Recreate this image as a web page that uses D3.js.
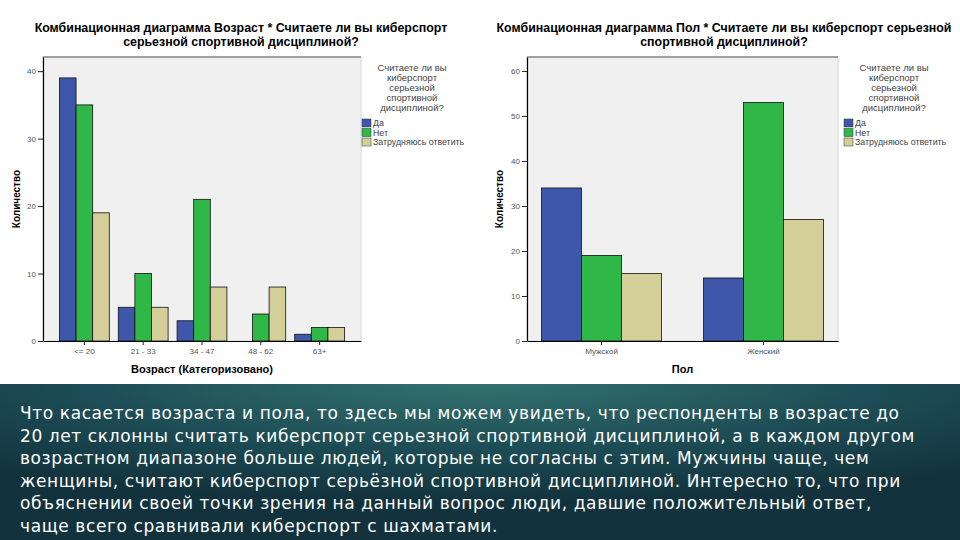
<!DOCTYPE html>
<html>
<head>
<meta charset="utf-8">
<script src="https://cdn.jsdelivr.net/npm/d3@7"></script>
<style>
  body { margin: 0; background: #fff; }
  svg { display: block; font-family: "Liberation Sans", Arial, sans-serif; }
</style>
</head>
<body>
<svg width="960" height="540"></svg>
<script>
// data
var seriesNames = ["Да", "Нет", "Затрудняюсь ответить"];
var seriesColors = ["#3e57ab", "#2fb748", "#d4cf98"];

var ageCats = ["<= 20", "21 - 33", "34 - 47", "48 - 62", "63+"];
var ageYes   = [39, 5, 3, 0, 1];
var ageNo    = [35, 10, 21, 4, 2];
var ageHard  = [19, 5, 8, 8, 2];
var ageTicks = [0, 10, 20, 30, 40];

var sexCats = ["Мужской", "Женский"];
var sexYes  = [34, 14];
var sexNo   = [19, 53];
var sexHard = [15, 27];
var sexTicks = [0, 10, 20, 30, 40, 50, 60];

var legendTitle = ["Считаете ли вы", "киберспорт", "серьезной", "спортивной", "дисциплиной?"];

var bodyLines = [
  "Что касается возраста и пола, то здесь мы можем увидеть, что респонденты в возрасте до",
  "20 лет склонны считать киберспорт серьезной спортивной дисциплиной, а в каждом другом",
  "возрастном диапазоне больше людей, которые не согласны с этим. Мужчины чаще, чем",
  "женщины, считают киберспорт серьёзной спортивной дисциплиной. Интересно то, что при",
  "объяснении своей точки зрения на данный вопрос люди, давшие положительный ответ,",
  "чаще всего сравнивали киберспорт с шахматами."
];

var svg = d3.select("svg");

// bottom panel
var defs = svg.append("defs");
var grad = defs.append("radialGradient").attr("id", "bg")
    .attr("cx", "50%").attr("cy", "0%").attr("r", "75%");
grad.append("stop").attr("offset", "0%").attr("stop-color", "#33726f");
grad.append("stop").attr("offset", "55%").attr("stop-color", "#1d4d56");
grad.append("stop").attr("offset", "100%").attr("stop-color", "#12333e");

svg.append("rect").attr("x", 0).attr("y", 384).attr("width", 960).attr("height", 156)
    .attr("fill", "url(#bg)");

svg.append("g").selectAll("text")
    .data(bodyLines)
    .enter().append("text")
    .attr("x", 20)
    .attr("y", function(d, i) { return 419 + i * 22.6; })
    .attr("fill", "#fff")
    .style("font-family", "'DejaVu Sans', sans-serif")
    .style("font-size", "17px")
    .style("letter-spacing", "0.6px")
    .text(function(d) { return d; });

function drawChart(cfg) {
    var g = svg.append("g");

    // title
    g.selectAll(".title")
        .data(cfg.title)
        .enter().append("text")
        .attr("x", cfg.titleX)
        .attr("y", function(d, i) { return 32 + i * 14; })
        .attr("text-anchor", "middle")
        .style("font-weight", "bold")
        .style("font-size", "12.4px")
        .text(function(d) { return d; });

    // plot bg
    g.append("rect")
        .attr("x", cfg.left).attr("y", cfg.top)
        .attr("width", cfg.right - cfg.left).attr("height", cfg.bottom - cfg.top)
        .attr("fill", "#f0f0f0").attr("stroke", "#d8d8d8");
    g.append("line")
        .attr("x1", cfg.left).attr("x2", cfg.right)
        .attr("y1", cfg.top).attr("y2", cfg.top)
        .attr("stroke", "#8a8a8a").attr("stroke-width", 1.5);

    var x = d3.scaleBand()
        .domain(cfg.cats)
        .range([cfg.left, cfg.right])
        .paddingInner(cfg.padIn)
        .paddingOuter(cfg.padOut);
    var xs = d3.scaleBand()
        .domain(d3.range(seriesNames.length))
        .range([0, x.bandwidth()]);
    var y = d3.scaleLinear()
        .domain([0, cfg.yMax])
        .range([cfg.bottom, cfg.top]);

    var rows = [];
    cfg.cats.forEach(function(c, i) {
        cfg.series.forEach(function(s, j) {
            rows.push({cat: c, s: j, val: s[i]});
        });
    });

    g.selectAll(".bar")
        .data(rows.filter(function(d) { return d.val > 0; }))
        .enter().append("rect")
        .attr("x", function(d) { return x(d.cat) + xs(d.s); })
        .attr("y", function(d) { return y(d.val); })
        .attr("width", xs.bandwidth())
        .attr("height", function(d) { return y(0) - y(d.val); })
        .attr("fill", function(d) { return seriesColors[d.s]; })
        .attr("stroke", "#111")
        .attr("stroke-width", 0.8);

    var yAxis = g.append("g")
        .attr("transform", "translate(" + cfg.left + ",0)")
        .call(d3.axisLeft(y).tickValues(cfg.ticks).tickSize(5).tickPadding(2).tickSizeOuter(0));
    var xAxis = g.append("g")
        .attr("transform", "translate(0," + cfg.bottom + ")")
        .call(d3.axisBottom(x).tickSize(4).tickPadding(3).tickSizeOuter(0));
    [xAxis, yAxis].forEach(function(a) {
        a.select(".domain").attr("stroke", "#000").attr("stroke-width", 1.2);
        a.selectAll("text").style("font-size", "8px").attr("fill", "#555")
            .style("font-family", "'Liberation Sans', Arial, sans-serif");
        a.selectAll(".tick line").attr("stroke", "#222");
    });

    // axis titles
    g.append("text")
        .attr("transform", "translate(" + cfg.yTitleX + "," + ((cfg.top + cfg.bottom) / 2) + ") rotate(-90)")
        .attr("text-anchor", "middle")
        .style("font-weight", "bold").style("font-size", "10px")
        .text("Количество");
    g.append("text")
        .attr("x", (cfg.left + cfg.right) / 2).attr("y", 373)
        .attr("text-anchor", "middle")
        .style("font-weight", "bold").style("font-size", "11px")
        .text(cfg.xTitle);

    // legend
    var lg = g.append("g");
    lg.selectAll(".lt")
        .data(legendTitle)
        .enter().append("text")
        .attr("x", cfg.legX + 50)
        .attr("y", function(d, i) { return 71 + i * 9.9; })
        .attr("text-anchor", "middle")
        .style("font-size", "9.5px").attr("fill", "#444")
        .text(function(d) { return d; });
    var items = lg.selectAll(".li")
        .data(seriesNames)
        .enter().append("g")
        .attr("transform", function(d, i) { return "translate(" + cfg.legX + "," + (119 + i * 9.5) + ")"; });
    items.append("rect")
        .attr("width", 9).attr("height", 8)
        .attr("fill", function(d, i) { return seriesColors[i]; })
        .attr("stroke", "#333").attr("stroke-width", 0.5);
    items.append("text")
        .attr("x", 11).attr("y", 7)
        .style("font-size", "8.8px").attr("fill", "#444")
        .text(function(d) { return d; });
}

drawChart({
    title: ["Комбинационная диаграмма Возраст * Считаете ли вы киберспорт", "серьезной спортивной дисциплиной?"],
    titleX: 241,
    cats: ageCats, series: [ageYes, ageNo, ageHard], ticks: ageTicks,
    left: 43, right: 361, top: 57, bottom: 341, yMax: 42.1,
    padIn: 0.153, padOut: 0.28,
    yTitleX: 20, xTitle: "Возраст (Категоризовано)", legX: 362
});

drawChart({
    title: ["Комбинационная диаграмма Пол * Считаете ли вы киберспорт серьезной", "спортивной дисциплиной?"],
    titleX: 724,
    cats: sexCats, series: [sexYes, sexNo, sexHard], ticks: sexTicks,
    left: 527, right: 838, top: 57, bottom: 341, yMax: 63.1,
    padIn: 0.26, padOut: 0.09,
    yTitleX: 503, xTitle: "Пол", legX: 844
});
</script>
</body>
</html>
